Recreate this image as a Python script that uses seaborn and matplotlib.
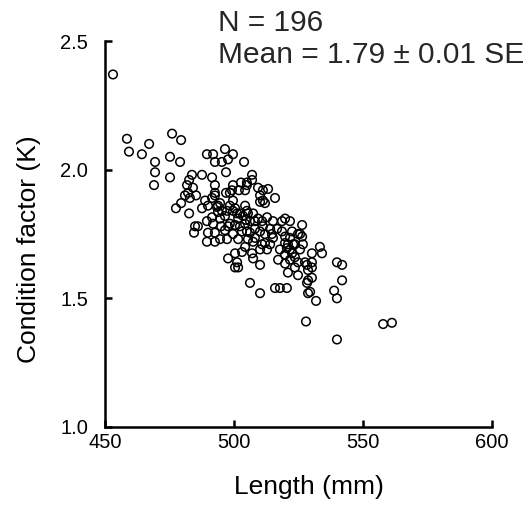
import matplotlib
matplotlib.use("Agg")
import matplotlib.pyplot as plt
import seaborn as sns
import pandas as pd

# Length (mm) and condition factor (K)
length_mm = [
    453.1, 458.5, 459.3, 464.3, 467.1, 469.4, 469.4, 469.0, 476.0, 479.5,
    475.2, 479.1, 475.2, 483.7, 487.6, 491.5, 481.8, 484.1, 482.6, 482.2,
    485.3, 479.5, 477.5, 482.6, 484.9, 486.0, 484.5, 481.0, 482.9, 488.8,
    491.5, 492.6, 494.6, 493.8, 498.4, 499.6, 500.4, 501.2, 504.3, 505.0,
    489.5, 491.5, 491.9, 494.6, 496.5, 498.4, 500.4, 502.3, 504.3, 489.9,
    492.6, 489.5, 492.6, 494.6, 497.3, 499.6, 503.1, 504.3, 503.1, 500.4,
    497.7, 501.2, 500.4, 501.6, 489.5, 491.9, 496.5, 499.6, 492.6, 495.3,
    497.7, 503.9, 496.9, 492.6, 499.6, 502.7, 505.0, 496.9, 499.2, 501.9,
    504.3, 492.6, 507.0, 507.0, 509.3, 511.2, 513.2, 505.0, 510.1, 511.2,
    512.0, 515.9, 510.1, 493.4, 487.6, 489.9, 497.3, 499.6, 502.3, 505.4,
    507.4, 509.3, 512.8, 515.1, 518.6, 521.7, 526.4, 519.8, 525.6, 522.5,
    495.0, 497.7, 505.0, 506.2, 508.1, 511.2, 514.7, 515.1, 519.8, 521.7,
    524.8, 526.7, 519.8, 520.5, 522.5, 523.6, 524.8, 510.9, 512.8, 507.0,
    507.4, 510.1, 517.1, 519.8, 520.9, 524.8, 506.2, 515.9, 520.5, 533.3,
    534.1, 530.2, 539.9, 541.9, 527.5, 530.2, 528.7, 541.9, 530.2, 528.7,
    529.5, 528.7, 538.8, 539.9, 531.8, 527.9, 557.8, 561.2, 539.9, 508.1,
    510.1, 507.4, 512.0, 521.7, 519.8, 526.4, 530.2, 528.3, 510.1, 528.3,
    510.1, 517.8, 523.6, 495.3, 498.4, 501.6, 503.5, 506.2, 508.1, 504.6,
    510.9, 514.0, 516.7, 518.6, 520.9, 522.9, 521.7, 525.6, 517.8, 514.0,
    493.8, 496.5, 501.6, 505.4, 512.0, 523.6,
]
condition_k = [
    2.37, 2.12, 2.07, 2.06, 2.10, 2.03, 1.99, 1.94, 2.14, 2.115,
    2.05, 2.03, 1.97, 1.98, 1.98, 1.97, 1.94, 1.93, 1.96, 1.91,
    1.90, 1.87, 1.85, 1.83, 1.78, 1.78, 1.755, 1.90, 1.89, 1.88,
    1.89, 1.90, 1.87, 1.86, 1.91, 1.88, 1.85, 1.83, 1.86, 1.84,
    1.80, 1.815, 1.79, 1.81, 1.82, 1.79, 1.785, 1.78, 1.79, 1.755,
    1.755, 1.72, 1.72, 1.73, 1.73, 1.75, 1.76, 1.70, 1.68, 1.675,
    1.655, 1.64, 1.62, 1.62, 2.06, 2.06, 2.08, 2.06, 2.03, 2.03,
    2.04, 2.03, 1.99, 1.94, 1.94, 1.95, 1.95, 1.91, 1.92, 1.92,
    1.92, 1.91, 1.98, 1.96, 1.93, 1.92, 1.925, 1.94, 1.90, 1.88,
    1.87, 1.89, 1.875, 1.855, 1.85, 1.86, 1.84, 1.84, 1.83, 1.83,
    1.83, 1.81, 1.815, 1.80, 1.80, 1.80, 1.785, 1.81, 1.75, 1.76,
    1.78, 1.78, 1.76, 1.755, 1.77, 1.78, 1.75, 1.735, 1.74, 1.735,
    1.75, 1.71, 1.715, 1.695, 1.675, 1.66, 1.64, 1.71, 1.69, 1.675,
    1.655, 1.63, 1.65, 1.635, 1.60, 1.59, 1.56, 1.54, 1.54, 1.70,
    1.675, 1.675, 1.64, 1.63, 1.64, 1.62, 1.61, 1.57, 1.58, 1.57,
    1.525, 1.52, 1.53, 1.50, 1.49, 1.41, 1.40, 1.405, 1.34, 1.735,
    1.76, 1.72, 1.715, 1.69, 1.67, 1.74, 1.64, 1.63, 1.69, 1.56,
    1.52, 1.54, 1.71, 1.84, 1.86, 1.81, 1.82, 1.80, 1.80, 1.805,
    1.80, 1.77, 1.77, 1.76, 1.71, 1.71, 1.65, 1.69, 1.69, 1.71,
    1.835, 1.765, 1.73, 1.73, 1.75, 1.62,
]

x_ticks = [450, 500, 550, 600]
y_ticks = [1.0, 1.5, 2.0, 2.5]
x_tick_labels = ["450", "500", "550", "600"]
y_tick_labels = ["1.0", "1.5", "2.0", "2.5"]

df = pd.DataFrame({"Length (mm)": length_mm, "Condition factor (K)": condition_k})

sns.set_style("ticks")
plt.rcParams["font.family"] = ["Liberation Sans", "DejaVu Sans"]

fig = plt.figure(figsize=(5.32, 5.16), dpi=100)
ax = fig.add_axes([105 / 532, 89 / 516, 387 / 532, 386 / 516])

sns.scatterplot(data=df, x="Length (mm)", y="Condition factor (K)", ax=ax,
                marker="o", s=38, facecolor="none", edgecolor="black",
                linewidth=1.1, zorder=3)

ax.set_xlim(450, 600)
ax.set_ylim(1.0, 2.5)
ax.set_xticks(x_ticks)
ax.set_xticklabels(x_tick_labels)
ax.set_yticks(y_ticks)
ax.set_yticklabels(y_tick_labels)

for side in ["top", "right"]:
    ax.spines[side].set_visible(False)
for side in ["left", "bottom"]:
    ax.spines[side].set_linewidth(1.8)
    ax.spines[side].set_color("black")

ax.tick_params(axis="both", direction="in", length=5, width=1.8,
               labelsize=14.5, colors="black", pad=4)
ax.tick_params(axis="y", pad=12)

ax.set_xlabel("Length (mm)", fontsize=19, color="black")
ax.set_ylabel("Condition factor (K)", fontsize=19, color="black")
ax.xaxis.set_label_coords(0.527, -0.125)
ax.yaxis.set_label_coords(-0.165, 0.46)

fig.text(218 / 532, 1 - 31 / 516, "N = 196", fontsize=21.5, ha="left", va="baseline")
fig.text(218 / 532, 1 - 63 / 516, "Mean = 1.79 \u00b1 0.01 SE", fontsize=21.5,
         ha="left", va="baseline")

fig.savefig("out.png", dpi=100)
